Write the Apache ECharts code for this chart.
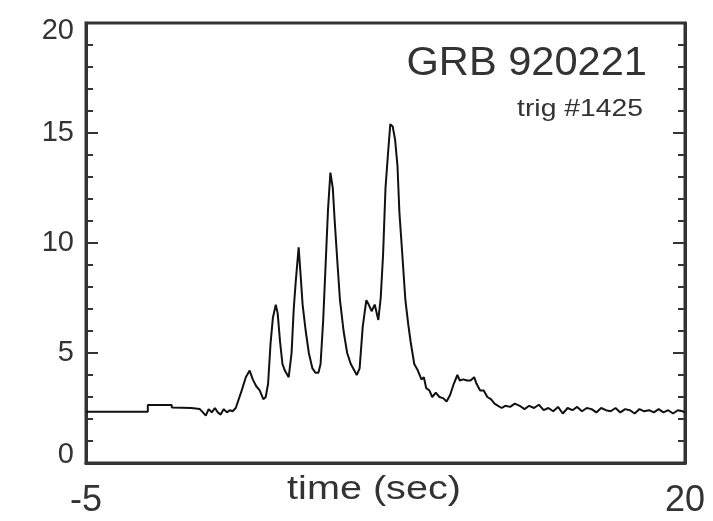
<!DOCTYPE html>
<html>
<head>
<meta charset="utf-8">
<script src="https://cdn.jsdelivr.net/npm/echarts@6/dist/echarts.min.js"></script>
<style>
  html, body { margin: 0; padding: 0; background: #fff; }
  #chart { width: 713px; height: 521px; }
</style>
</head>
<body>
<div id="chart"></div>
<script>
// BATSE light curve of GRB 920221 (trigger #1425): counts (x1000/s) vs time since trigger
const times = [
  -5, -2.42, -2.42, -1.42, -1.42, -0.6, -0.25,
  -0.12, 0.0, 0.12, 0.25, 0.38, 0.5, 0.62, 0.75, 0.88, 1.0, 1.12, 1.25,
  1.33, 1.5, 1.67, 1.83, 1.96, 2.1, 2.25, 2.4, 2.5, 2.6, 2.7, 2.8, 2.92,
  3.0, 3.1, 3.2, 3.3, 3.46, 3.58, 3.67, 3.75, 3.875, 3.96, 4.04, 4.17, 4.3,
  4.45, 4.58, 4.7, 4.79, 4.9, 5.0, 5.1, 5.2, 5.3, 5.38, 5.5, 5.6, 5.75,
  5.9, 6.05, 6.2, 6.3, 6.42, 6.55, 6.7, 6.8, 6.92, 7.05, 7.2, 7.3, 7.4,
  7.5, 7.6, 7.7, 7.8, 7.9, 8.0, 8.08, 8.2, 8.33, 8.45, 8.55, 8.7, 8.85,
  9.0, 9.1, 9.2, 9.33, 9.45, 9.6, 9.75, 9.9, 10.05, 10.2, 10.35, 10.5,
  10.6, 10.75, 10.9, 11.05, 11.2, 11.3, 11.45, 11.6, 11.75, 11.9, 12.05,
  12.2, 12.35, 12.5, 12.7, 12.9, 13.1, 13.3, 13.5, 13.7, 13.9, 14.1, 14.3,
  14.5, 14.7, 14.9, 15.1, 15.3, 15.5, 15.7, 15.9, 16.1, 16.3, 16.5, 16.7,
  16.9, 17.1, 17.3, 17.5, 17.7, 17.9, 18.1, 18.3, 18.5, 18.7, 18.9, 19.1,
  19.3, 19.5, 19.7, 19.9, 20
];
const counts = [
  2.33, 2.33, 2.64, 2.64, 2.52, 2.5, 2.45,
  2.3, 2.15, 2.45, 2.3, 2.5, 2.3, 2.2, 2.45, 2.3, 2.4, 2.35, 2.5,
  2.5, 3.3, 3.9, 4.2, 3.8, 3.5, 3.3, 2.9, 3.0, 3.6, 5.4, 6.6, 7.2,
  6.8, 5.5, 4.5, 4.2, 3.9, 5.0, 7.0, 8.2, 9.8, 8.5, 7.2, 6.0, 5.0,
  4.3, 4.1, 4.1, 4.5, 6.5, 9.0, 11.5, 13.2, 12.5, 11.0, 9.0, 7.4, 6.0,
  5.0, 4.5, 4.2, 4.0, 4.3, 6.2, 7.4, 7.2, 6.9, 7.2, 6.5, 7.5, 9.5,
  12.5, 14.0, 15.4, 15.3, 14.7, 13.5, 11.4, 9.5, 7.4, 6.3, 5.5, 4.5, 4.2,
  3.8, 3.9, 3.4, 3.3, 3.0, 3.2, 3.0, 2.95, 2.8, 3.1, 3.6, 4.0,
  3.75, 3.8, 3.75, 3.75, 3.9, 3.6, 3.3, 3.3, 3.0, 2.9, 2.7,
  2.6, 2.5, 2.6, 2.55, 2.7, 2.6, 2.45, 2.6, 2.5, 2.65, 2.4, 2.5,
  2.35, 2.55, 2.25, 2.5, 2.4, 2.55, 2.35, 2.5, 2.45, 2.3, 2.5, 2.4,
  2.35, 2.5, 2.3, 2.45, 2.4, 2.25, 2.45, 2.35, 2.4, 2.3, 2.45, 2.3,
  2.4, 2.25, 2.4, 2.35, 2.3
];
const yTicks = [0, 5, 10, 15, 20];
const xRange = [-5, 20];
const title = 'GRB 920221';
const subtitle = 'trig #1425';
const xName = 'time (sec)';

const FONT = '"Liberation Sans", Arial, Helvetica, sans-serif';
const INK = '#333';

const chart = echarts.init(document.getElementById('chart'), null, { renderer: 'canvas' });

const yCommon = {
  type: 'value',
  min: yTicks[0],
  max: yTicks[yTicks.length - 1],
  interval: yTicks[1] - yTicks[0],
  splitLine: { show: false },
  axisLine: { show: true, onZero: false, lineStyle: { color: INK, width: 3 } },
  axisTick: { show: true, inside: true, length: 12, lineStyle: { color: INK, width: 2 } },
  minorTick: { show: true, splitNumber: 5, length: 7, lineStyle: { color: INK, width: 2 } }
};

chart.setOption({
  animation: false,
  backgroundColor: '#fff',
  grid: {
    left: 86, right: 28, top: 23, bottom: 58,
    outerBoundsMode: 'none',
    containLabel: false,
    show: true, borderColor: INK, borderWidth: 3, backgroundColor: 'transparent'
  },
  xAxis: {
    type: 'value',
    min: xRange[0],
    max: xRange[1],
    interval: xRange[1] - xRange[0],
    splitLine: { show: false },
    axisLine: { show: true, onZero: false, lineStyle: { color: INK, width: 3 } },
    axisTick: { show: false },
    axisLabel: { fontFamily: FONT, fontSize: 36, color: INK, margin: 20 }
  },
  yAxis: [
    Object.assign({}, yCommon, {
      position: 'left',
      axisLabel: {
        fontFamily: FONT, fontSize: 29, color: INK, margin: 12, lineHeight: 16,
        verticalAlignMaxLabel: 'top', verticalAlignMinLabel: 'bottom'
      }
    }),
    Object.assign({}, yCommon, {
      position: 'right',
      axisLabel: { show: false }
    })
  ],
  graphic: [
    {
      type: 'text', x: 647, y: 64,
      style: {
        text: title, fontFamily: FONT, fontSize: 40, fill: INK,
        align: 'right', verticalAlign: 'middle'
      },
      scaleX: 1.04
    },
    {
      type: 'text', x: 643, y: 109,
      style: {
        text: subtitle, fontFamily: FONT, fontSize: 24, fill: INK,
        align: 'right', verticalAlign: 'middle'
      },
      scaleX: 1.18
    },
    {
      type: 'text', x: 374, y: 490,
      style: {
        text: xName, fontFamily: FONT, fontSize: 33, fill: INK,
        align: 'center', verticalAlign: 'middle'
      },
      scaleX: 1.2
    }
  ],
  series: [{
    type: 'line',
    data: times.map((t, i) => [t, counts[i]]),
    showSymbol: false,
    lineStyle: { color: '#111', width: 2 },
    clip: true
  }]
});
</script>
</body>
</html>
